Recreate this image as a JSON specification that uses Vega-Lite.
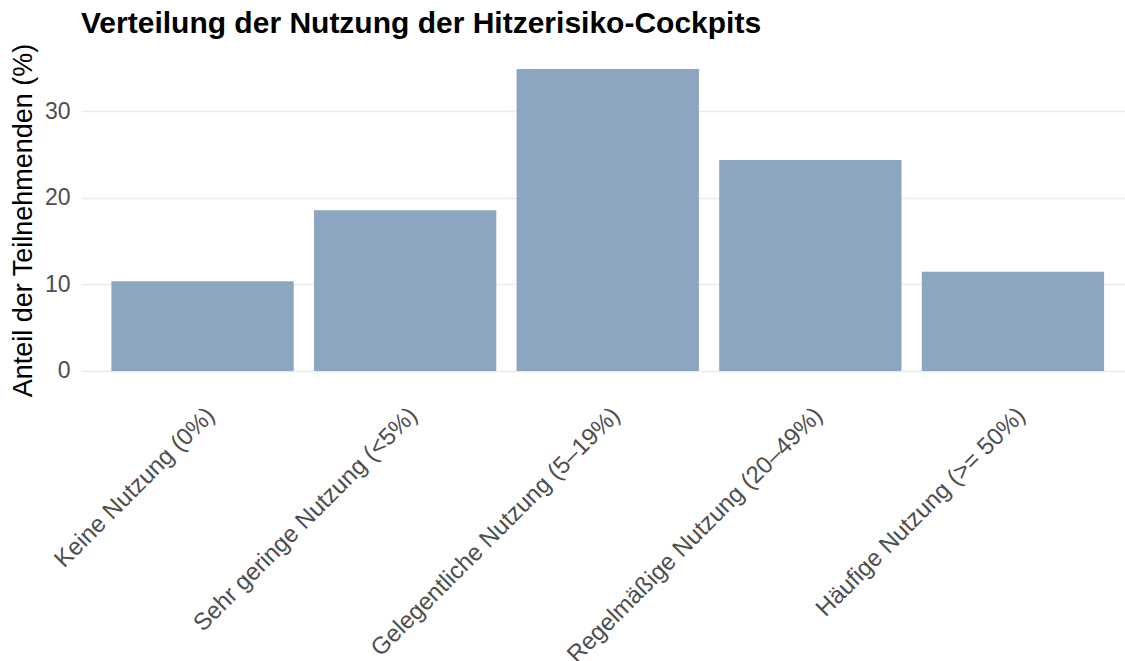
{
  "$schema": "https://vega.github.io/schema/vega-lite/v6.json",
  "width": 1044,
  "height": 332,
  "autosize": {"type": "none"},
  "padding": {"left": 81, "top": 54, "right": 0, "bottom": 275},
  "background": "white",
  "title": {
    "text": "Verteilung der Nutzung der Hitzerisiko-Cockpits",
    "anchor": "start",
    "frame": "group",
    "font": "Liberation Sans",
    "fontSize": 30,
    "fontWeight": "bold",
    "color": "#000000",
    "offset": 4
  },
  "data": {
    "values": [
      {"kategorie": "Keine Nutzung (0%)", "anteil": 10.37},
      {"kategorie": "Sehr geringe Nutzung (<5%)", "anteil": 18.58},
      {"kategorie": "Gelegentliche Nutzung (5–19%)", "anteil": 34.9},
      {"kategorie": "Regelmäßige Nutzung (20–49%)", "anteil": 24.4},
      {"kategorie": "Häufige Nutzung (>= 50%)", "anteil": 11.48}
    ]
  },
  "mark": {"type": "bar", "color": "#8CA6C1"},
  "encoding": {
    "x": {
      "field": "kategorie",
      "type": "nominal",
      "sort": null,
      "scale": {"range": [0, 1053.5], "paddingInner": 0.1, "paddingOuter": 0.15},
      "axis": {
        "title": null,
        "labelAngle": -45,
        "labelAlign": "right",
        "labelBaseline": "top",
        "labelFont": "Liberation Sans",
        "labelFontSize": 24,
        "labelColor": "#4D4D4D",
        "labelPadding": 17,
        "ticks": false,
        "tickSize": 0,
        "domain": false,
        "grid": false,
        "labelOverlap": false,
        "labelLimit": 0
      }
    },
    "y": {
      "field": "anteil",
      "type": "quantitative",
      "scale": {"domain": [-1.745, 36.645], "nice": false, "zero": false},
      "axis": {
        "title": "Anteil der Teilnehmenden (%)",
        "titleFont": "Liberation Sans",
        "titleFontSize": 27,
        "titleFontWeight": "normal",
        "titleColor": "#000000",
        "titlePadding": 7,
        "values": [0, 10, 20, 30],
        "labelFont": "Liberation Sans",
        "labelFontSize": 23,
        "labelColor": "#4D4D4D",
        "labelPadding": 11,
        "ticks": false,
        "tickSize": 0,
        "domain": false,
        "grid": true,
        "gridColor": "#EBEBEB",
        "gridWidth": 1.5
      }
    },
    "y2": {"datum": 0}
  },
  "config": {"view": {"stroke": null}}
}
